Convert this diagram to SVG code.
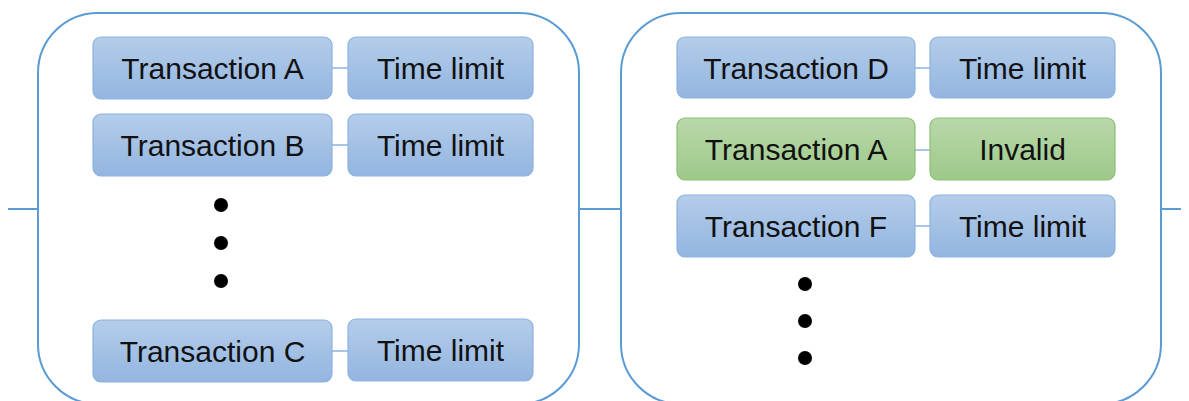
<svg xmlns="http://www.w3.org/2000/svg" width="1189" height="401" viewBox="0 0 1189 401">
<defs>
<linearGradient id="gBlue" x1="0" y1="0" x2="0" y2="1">
<stop offset="0" stop-color="#b4cdea"/>
<stop offset="1" stop-color="#93b5e0"/>
</linearGradient>
<linearGradient id="gGreen" x1="0" y1="0" x2="0" y2="1">
<stop offset="0" stop-color="#b8d8aa"/>
<stop offset="1" stop-color="#9ec98a"/>
</linearGradient>
</defs>
<style>
.cont{fill:#ffffff;stroke:#5b9bd5;stroke-width:2}
.blue{fill:url(#gBlue);stroke:#8db2e0;stroke-width:1.2}
.green{fill:url(#gGreen);stroke:#8cc070;stroke-width:1.2}
.lbl{font-family:"Liberation Sans",Arial,sans-serif;font-size:30px;fill:#111111;text-anchor:middle}
.link{stroke:#8db2e0;stroke-width:1.5;fill:none}
.bus{stroke:#5b9bd5;stroke-width:2;fill:none}
.dot{fill:#000000}
</style>
<g id="block1">
<rect class="cont" x="38" y="13" width="541" height="391" rx="60" ry="60"/>
</g>
<g id="block2">
<rect class="cont" x="621" y="13" width="540" height="391" rx="60" ry="60"/>
</g>
<g id="connectors">
<line class="bus" x1="8" y1="209" x2="37" y2="209"/>
<line class="bus" x1="580" y1="209" x2="620" y2="209"/>
<line class="bus" x1="1162" y1="209" x2="1181" y2="209"/>
<line class="link" x1="332" y1="68" x2="348" y2="68"/>
<line class="link" x1="332" y1="145" x2="348" y2="145"/>
<line class="link" x1="332" y1="351" x2="348" y2="351"/>
<line class="link" x1="915" y1="68" x2="930" y2="68"/>
<line class="link" x1="915" y1="150" x2="930" y2="150"/>
<line class="link" x1="915" y1="226" x2="930" y2="226"/>
</g>
<g id="txA">
<rect class="blue" x="93" y="37" width="239" height="62" rx="8"/>
<text class="lbl" x="212.5" y="79">Transaction A</text>
</g>
<g id="tlA">
<rect class="blue" x="348" y="37" width="185" height="62" rx="8"/>
<text class="lbl" x="440.5" y="79">Time limit</text>
</g>
<g id="txB">
<rect class="blue" x="93" y="114" width="239" height="62" rx="8"/>
<text class="lbl" x="212.5" y="156">Transaction B</text>
</g>
<g id="tlB">
<rect class="blue" x="348" y="114" width="185" height="62" rx="8"/>
<text class="lbl" x="440.5" y="156">Time limit</text>
</g>
<g id="dotsLeft">
<circle class="dot" cx="221" cy="205" r="7"/>
<circle class="dot" cx="221" cy="243" r="7"/>
<circle class="dot" cx="221" cy="281" r="7"/>
</g>
<g id="txC">
<rect class="blue" x="93" y="320" width="239" height="62" rx="8"/>
<text class="lbl" x="212.5" y="362">Transaction C</text>
</g>
<g id="tlC">
<rect class="blue" x="348" y="319" width="185" height="62" rx="8"/>
<text class="lbl" x="440.5" y="361">Time limit</text>
</g>
<g id="txD">
<rect class="blue" x="677" y="37" width="238" height="61" rx="8"/>
<text class="lbl" x="796" y="79">Transaction D</text>
</g>
<g id="tlD">
<rect class="blue" x="930" y="37" width="185" height="61" rx="8"/>
<text class="lbl" x="1022.5" y="79">Time limit</text>
</g>
<g id="txA2">
<rect class="green" x="677" y="118" width="238" height="62" rx="8"/>
<text class="lbl" x="796" y="160">Transaction A</text>
</g>
<g id="invalid">
<rect class="green" x="930" y="118" width="185" height="62" rx="8"/>
<text class="lbl" x="1022.5" y="160">Invalid</text>
</g>
<g id="txF">
<rect class="blue" x="677" y="195" width="238" height="62" rx="8"/>
<text class="lbl" x="796" y="237">Transaction F</text>
</g>
<g id="tlF">
<rect class="blue" x="930" y="195" width="185" height="62" rx="8"/>
<text class="lbl" x="1022.5" y="237">Time limit</text>
</g>
<g id="dotsRight">
<circle class="dot" cx="805" cy="284" r="7"/>
<circle class="dot" cx="805" cy="321" r="7"/>
<circle class="dot" cx="805" cy="358" r="7"/>
</g>
</svg>
